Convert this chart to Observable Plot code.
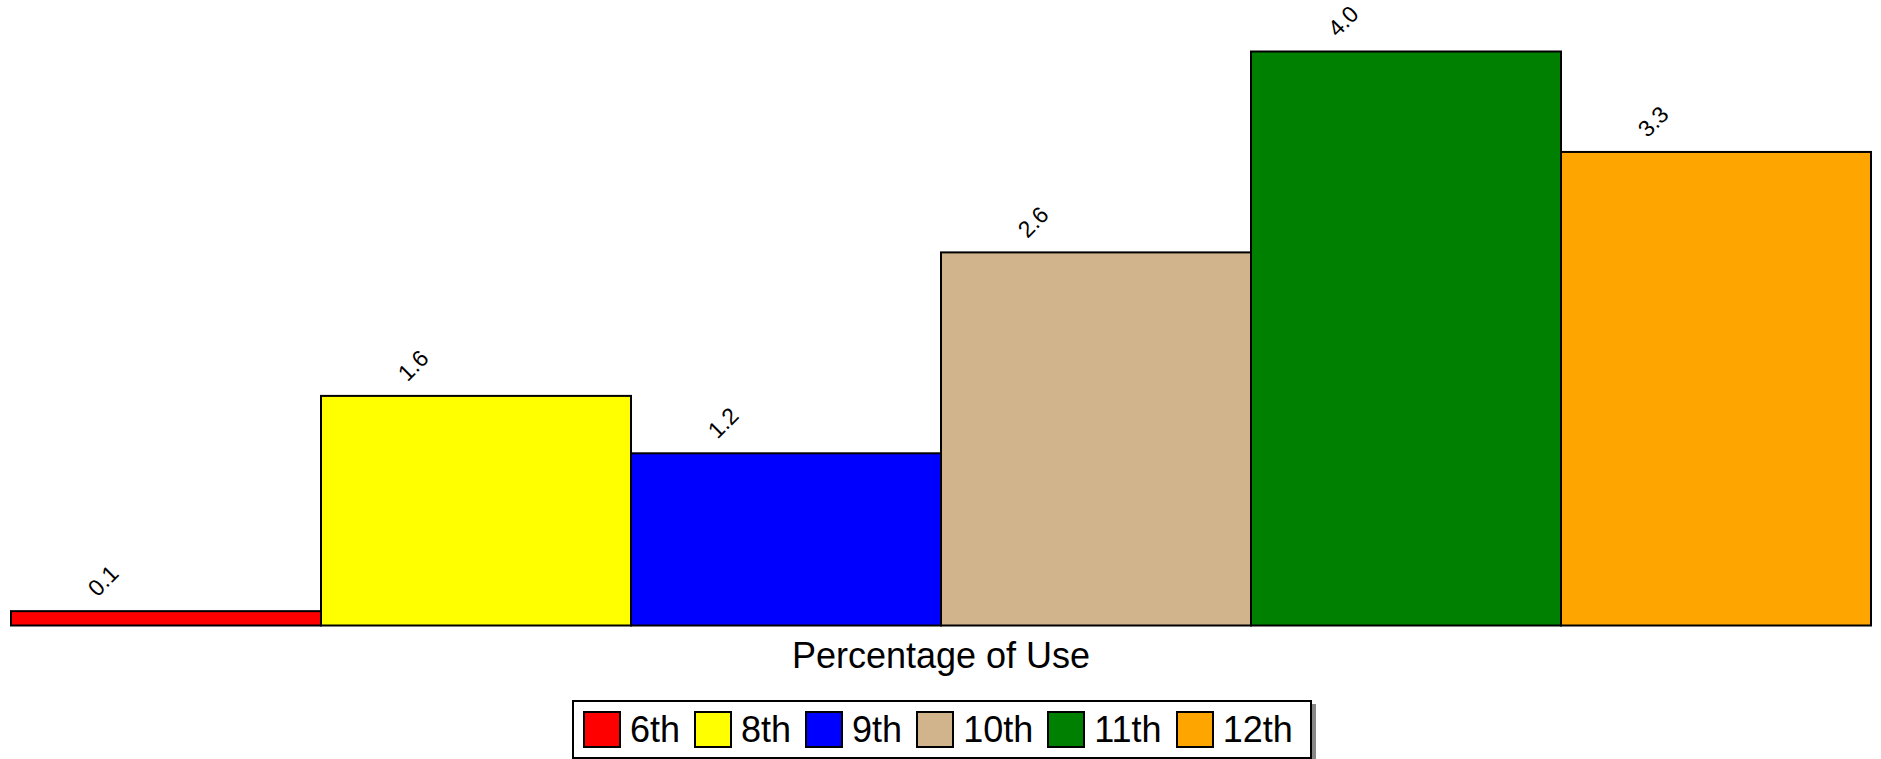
<!DOCTYPE html>
<html>
<head>
<meta charset="utf-8">
<script src="https://cdn.jsdelivr.net/npm/d3@7"></script>
<script src="https://cdn.jsdelivr.net/npm/@observablehq/plot@0.6"></script>
<style>
  html, body { margin: 0; padding: 0; background: #fff; }
  body { width: 1881px; height: 759px; overflow: hidden; font-family: "Liberation Sans", Arial, sans-serif; }
  #chart svg { display: block; }
  .legend {
    box-sizing: border-box;
    position: absolute; left: 572px; top: 700px;
    width: 740px; height: 59px;
    border: 2px solid #000; background: #fff;
    box-shadow: 4px 4px 0 #888;
    display: flex; align-items: center;
    padding-left: 9px;
    font-size: 36px; color: #000;
  }
  .item { display: flex; align-items: center; margin-right: 14px; }
  .sw { box-sizing: border-box; width: 38px; height: 37px; border: 2px solid #000; margin-right: 9px; }
</style>
</head>
<body>
<div id="chart"></div>
<div class="legend" id="legend"></div>
<script>
const grades = ["6th", "8th", "9th", "10th", "11th", "12th"];
const values = [0.1, 1.6, 1.2, 2.6, 4.0, 3.3];
const colors = ["#ff0000", "#ffff00", "#0000ff", "#d2b48c", "#008000", "#ffa500"];
const axisLabel = "Percentage of Use";

const data = grades.map((g, i) => ({grade: g, value: values[i]}));

const H = 695;
const chart = Plot.plot({
  width: 1881,
  height: H,
  marginLeft: 8,
  marginRight: 8,
  marginTop: 51.5,
  marginBottom: H - 625.5,
  style: {fontFamily: "'Liberation Sans', Arial, sans-serif", background: "#fff"},
  x: {domain: grades, padding: 0, axis: null},
  y: {domain: [0, 4], axis: null},
  color: {domain: grades, range: colors},
  marks: [
    Plot.barY(data, {x: "grade", y: "value", fill: "grade", stroke: "#000", strokeWidth: 2}),
    Plot.text(data, {
      x: "grade", y: "value", text: d => d.value.toFixed(1),
      rotate: -45, textAnchor: "start", lineAnchor: "bottom",
      dx: -69, dy: -14, fontSize: 23, fill: "#000"
    }),
    Plot.text([axisLabel], {frameAnchor: "bottom", dy: 41.5, fontSize: 36, fill: "#000"})
  ]
});
document.getElementById("chart").appendChild(chart);

const legend = document.getElementById("legend");
grades.forEach((g, i) => {
  const item = document.createElement("div");
  item.className = "item";
  const sw = document.createElement("div");
  sw.className = "sw";
  sw.style.background = colors[i];
  const t = document.createElement("span");
  t.textContent = g;
  item.appendChild(sw);
  item.appendChild(t);
  legend.appendChild(item);
});
</script>
</body>
</html>
